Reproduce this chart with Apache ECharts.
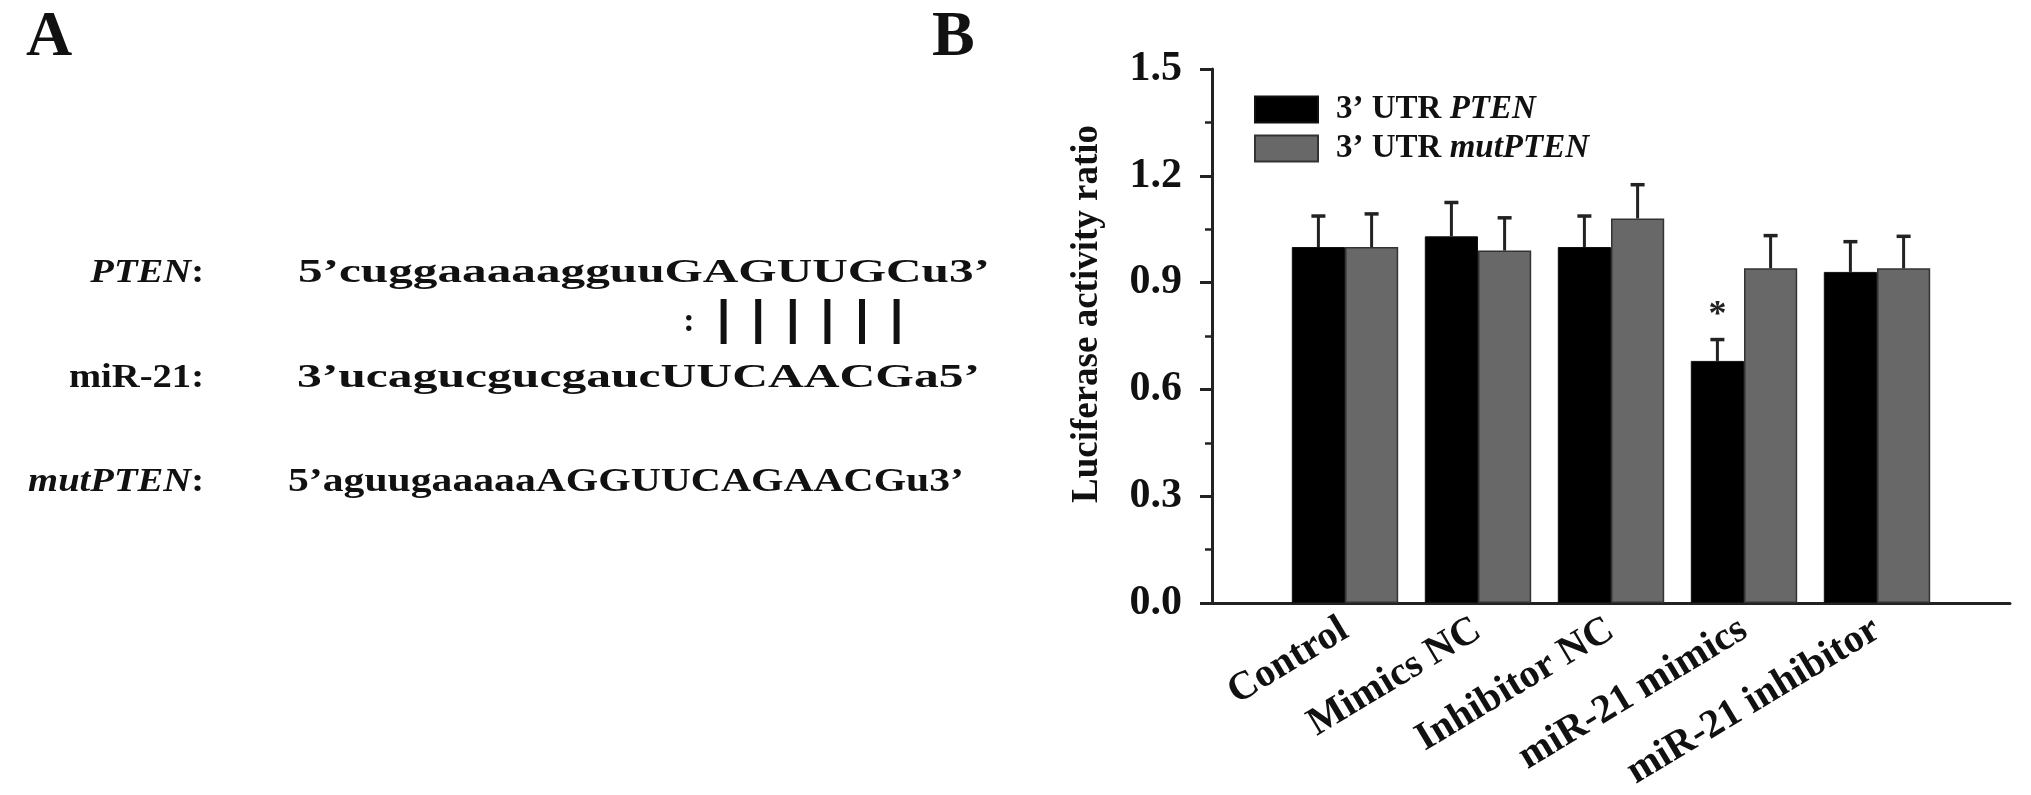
<!DOCTYPE html>
<html>
<head>
<meta charset="utf-8">
<script src="https://cdn.jsdelivr.net/npm/echarts@6/dist/echarts.min.js"></script>
<style>
  html, body { margin: 0; padding: 0; background: #fff; }
  #chart { width: 2031px; height: 795px; }
</style>
</head>
<body>
<div id="chart"></div>
<script>
// panel B data
var categories = ['Control', 'Mimics NC', 'Inhibitor NC', 'miR-21 mimics', 'miR-21 inhibitor'];
var seriesNames = ['3’ UTR PTEN', '3’ UTR mutPTEN'];
var ptenValues = [1.00, 1.03, 1.00, 0.68, 0.93];
var ptenErrors = [0.087, 0.095, 0.087, 0.06, 0.085];
var mutValues = [1.00, 0.99, 1.08, 0.94, 0.94];
var mutErrors = [0.093, 0.092, 0.095, 0.092, 0.09];
var ptenMarks = ['', '', '', '*', ''];
var yMin = 0, yMax = 1.5, yStep = 0.3;

// panel A text
var seqLabels = ['{i|PTEN}:', 'miR-21:', '{i|mutPTEN}:'];
var sequences = ['5’cuggaaaaagguuGAGUUGCu3’', '3’ucagucgucgaucUUCAACGa5’', '5’aguugaaaaaAGGUUCAGAACGu3’'];
var pairMarks = [':', '|', '|', '|', '|', '|', '|'];

var serif = '"Liberation Serif", "Times New Roman", "DejaVu Serif", serif';

// layout for panel A
var rowY = [273, 378, 482];
var seqX = [298, 297, 288];
var seqW = [692, 683, 676];
var seqFont = 33;

var measureCtx = document.createElement('canvas').getContext('2d');
function textWidth(str, size) {
  measureCtx.font = 'bold ' + size + 'px ' + serif;
  return measureCtx.measureText(str).width;
}

var graphics = [
  { type: 'text', x: 26, y: 38, style: { text: 'A', fontFamily: serif, fontWeight: 'bold', fontSize: 64, fill: '#111', verticalAlign: 'middle' } },
  { type: 'text', x: 932, y: 38, style: { text: 'B', fontFamily: serif, fontWeight: 'bold', fontSize: 64, fill: '#111', verticalAlign: 'middle' } }
];
var richLabel = {
  i: { fontFamily: serif, fontWeight: 'bold', fontStyle: 'italic', fontSize: seqFont, fill: '#111' }
};
for (var r = 0; r < sequences.length; r++) {
  graphics.push({
    type: 'text', x: 204, y: rowY[r], scaleX: 1.17,
    style: { text: seqLabels[r], rich: richLabel, fontFamily: serif, fontWeight: 'bold', fontSize: seqFont, fill: '#111', align: 'right', verticalAlign: 'middle' }
  });
  graphics.push({
    type: 'text', x: seqX[r], y: rowY[r], scaleX: seqW[r] / textWidth(sequences[r], seqFont),
    style: { text: sequences[r], fontFamily: serif, fontWeight: 'bold', fontSize: seqFont, fill: '#111', verticalAlign: 'middle' }
  });
}
// base-pairing marks between PTEN and miR-21
for (var p = 0; p < pairMarks.length; p++) {
  var px = 689 + p * 34.6;
  if (pairMarks[p] === ':') {
    graphics.push({ type: 'text', x: px, y: 322, style: { text: ':', fontFamily: serif, fontWeight: 'bold', fontSize: 34, fill: '#111', align: 'center', verticalAlign: 'middle' } });
  } else {
    graphics.push({ type: 'rect', shape: { x: px - 3, y: 299, width: 6, height: 45 }, style: { fill: '#111' } });
  }
}

// pad the category axis so bars sit on positions 1..5 of a 0..6 axis
var axisCats = [''].concat(categories, ['']);
function pad(arr) { return [null].concat(arr, [null]); }
function errData(values, errors) {
  return values.map(function (v, i) { return [i + 1, v, errors[i]]; });
}

function errorBar(side, marks) {
  return function (params, api) {
    var idx = api.value(0);
    var val = api.value(1);
    var err = api.value(2);
    var band = api.size([1, 0])[0];
    var base = api.coord([idx, val]);
    var top = api.coord([idx, val + err]);
    var x = base[0] + side * band * 0.2;
    var children = [
      { type: 'line', shape: { x1: x, y1: base[1], x2: x, y2: top[1] }, style: { stroke: '#222', lineWidth: 3 } },
      { type: 'line', shape: { x1: x - 7, y1: top[1], x2: x + 7, y2: top[1] }, style: { stroke: '#222', lineWidth: 3.5 } }
    ];
    if (marks && marks[params.dataIndex]) {
      children.push({
        type: 'text', x: x, y: top[1] - 24,
        style: { text: marks[params.dataIndex], fontFamily: serif, fontWeight: 'bold', fontSize: 36, fill: '#222', align: 'center', verticalAlign: 'middle' }
      });
    }
    return { type: 'group', children: children };
  };
}

var legendRich = {
  i: { fontFamily: serif, fontWeight: 'bold', fontStyle: 'italic', fontSize: 33, color: '#111', lineHeight: 26 }
};

var option = {
  animation: false,
  backgroundColor: '#fff',
  graphic: graphics,
  grid: { left: 1212, right: 21, top: 69, bottom: 192, containLabel: false, outerBoundsMode: 'none' },
  legend: {
    orient: 'vertical', left: 1249, top: 88,
    itemWidth: 63, itemHeight: 26, itemGap: 6, icon: 'rect',
    data: seriesNames,
    formatter: function (name) { return name.replace(/^(3’ UTR )(.*)$/, '$1{i|$2}'); },
    textStyle: { fontFamily: serif, fontWeight: 'bold', fontSize: 33, color: '#111', lineHeight: 26, padding: [0, 0, 0, 13], rich: legendRich }
  },
  xAxis: {
    type: 'category',
    data: axisCats,
    boundaryGap: false,
    axisLine: { lineStyle: { color: '#222', width: 3 } },
    axisTick: { show: false },
    axisLabel: { interval: 0, rotate: 31, margin: 24, fontFamily: serif, fontWeight: 'bold', fontSize: 40, color: '#111' },
    splitLine: { show: false }
  },
  yAxis: {
    type: 'value',
    min: yMin, max: yMax, interval: yStep,
    name: 'Luciferase activity ratio',
    nameLocation: 'middle', nameRotate: 90, nameGap: 106,
    nameTextStyle: { fontFamily: serif, fontWeight: 'bold', fontSize: 37, color: '#111', padding: [0, 0, 0, 44] },
    axisLine: { show: true, lineStyle: { color: '#222', width: 3 } },
    axisTick: { show: true, inside: false, length: 12, lineStyle: { color: '#222', width: 3 } },
    minorTick: { show: true, splitNumber: 2, length: 7, lineStyle: { color: '#222', width: 2.5 } },
    axisLabel: { margin: 30, fontFamily: serif, fontWeight: 'bold', fontSize: 42, color: '#111', formatter: function (v) { return v.toFixed(1); } },
    splitLine: { show: false }
  },
  series: [
    {
      name: seriesNames[0], type: 'bar', data: pad(ptenValues),
      barWidth: '40%', barGap: '0%',
      itemStyle: { color: '#000', borderColor: '#111', borderWidth: 1 }
    },
    {
      name: seriesNames[1], type: 'bar', data: pad(mutValues),
      barWidth: '40%', barGap: '0%',
      itemStyle: { color: '#686868', borderColor: '#333', borderWidth: 1.5 }
    },
    {
      type: 'custom', data: errData(ptenValues, ptenErrors),
      renderItem: errorBar(-1, ptenMarks), encode: { x: 0, y: 1 }, z: 5, silent: true
    },
    {
      type: 'custom', data: errData(mutValues, mutErrors),
      renderItem: errorBar(1, null), encode: { x: 0, y: 1 }, z: 5, silent: true
    }
  ]
};

var chart = echarts.init(document.getElementById('chart'));
chart.setOption(option);
</script>
</body>
</html>
